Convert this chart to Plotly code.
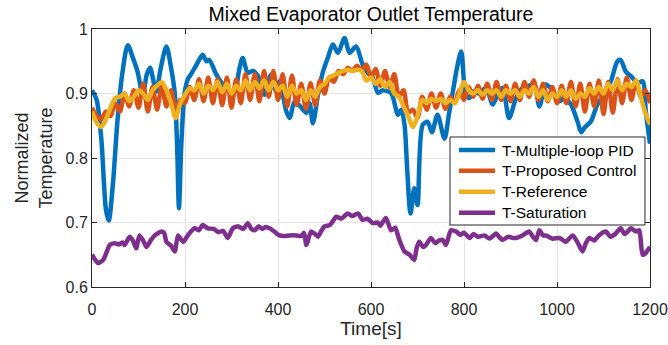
import plotly.graph_objects as go

# ---- Data ----
pid_t = [0,10,20,30,36,45,55,65,77,88,98,109,118,125,132,138,148,160,170,178,183,187,192,199,206,213,225,238,246,252,267,280,292,307,316,324,335,346,357,371,385,395,403,418,425,436,448,461,468,475,486,496,507,518,529,543,554,568,582,595,604,615,625,643,658,665,672,678,685,693,700,711,722,731,743,758,768,776,785,794,804,812,819,833,847,862,873,883,897,912,926,940,951,962,976,990,1005,1016,1030,1044,1052,1059,1073,1087,1102,1116,1130,1137,1148,1159,1173,1184,1191,1200]
pid_v = [0.905,0.89,0.83,0.72,0.703,0.76,0.86,0.93,0.975,0.955,0.934,0.898,0.93,0.94,0.92,0.903,0.94,0.973,0.94,0.9,0.82,0.722,0.82,0.9,0.922,0.93,0.945,0.96,0.95,0.952,0.93,0.915,0.906,0.903,0.935,0.955,0.932,0.935,0.927,0.898,0.929,0.905,0.919,0.872,0.862,0.888,0.88,0.87,0.885,0.854,0.898,0.932,0.955,0.976,0.963,0.986,0.963,0.973,0.945,0.93,0.924,0.901,0.905,0.901,0.867,0.875,0.852,0.78,0.714,0.753,0.727,0.851,0.856,0.84,0.867,0.83,0.87,0.903,0.94,0.965,0.898,0.893,0.903,0.9,0.909,0.883,0.9,0.909,0.862,0.893,0.909,0.912,0.916,0.88,0.914,0.905,0.888,0.893,0.883,0.857,0.84,0.847,0.857,0.883,0.898,0.919,0.95,0.952,0.934,0.927,0.916,0.919,0.872,0.822]

grid_t = list(range(0, 1201, 10))
proposed_v = [0.878,0.865,0.86,0.872,0.865,0.885,0.872,0.9,0.88,0.905,0.878,0.915,0.872,0.91,0.875,0.912,0.88,0.905,0.875,0.89,
              0.885,0.91,0.89,0.922,0.888,0.925,0.885,0.922,0.882,0.925,0.878,0.922,0.885,0.93,0.89,0.93,0.888,0.935,0.895,0.935,
              0.89,0.93,0.88,0.928,0.882,0.915,0.876,0.916,0.882,0.92,0.9,0.925,0.918,0.935,0.93,0.94,0.935,0.943,0.935,0.945,
              0.925,0.938,0.912,0.935,0.91,0.93,0.895,0.905,0.87,0.875,0.862,0.895,0.875,0.9,0.878,0.9,0.876,0.895,0.885,0.905,
              0.89,0.91,0.895,0.912,0.892,0.915,0.89,0.918,0.89,0.912,0.888,0.915,0.89,0.918,0.895,0.92,0.89,0.915,0.888,0.91,
              0.885,0.912,0.885,0.918,0.88,0.915,0.872,0.915,0.88,0.92,0.868,0.918,0.87,0.922,0.885,0.925,0.89,0.92,0.895,0.905,
              0.885]
reference_v = [0.872,0.855,0.848,0.86,0.878,0.893,0.895,0.9,0.888,0.895,0.905,0.9,0.89,0.905,0.912,0.918,0.905,0.885,0.862,0.885,
               0.898,0.908,0.905,0.915,0.9,0.912,0.905,0.918,0.902,0.915,0.9,0.912,0.905,0.92,0.905,0.918,0.908,0.92,0.905,0.918,
               0.905,0.912,0.895,0.912,0.9,0.905,0.89,0.905,0.895,0.91,0.915,0.925,0.928,0.932,0.935,0.937,0.935,0.937,0.935,0.92,
               0.925,0.915,0.922,0.91,0.918,0.9,0.895,0.88,0.865,0.848,0.865,0.89,0.885,0.892,0.888,0.892,0.885,0.89,0.885,0.9,
               0.918,0.905,0.9,0.905,0.898,0.905,0.9,0.905,0.895,0.905,0.9,0.905,0.895,0.905,0.9,0.91,0.895,0.905,0.89,0.9,
               0.895,0.905,0.895,0.905,0.892,0.9,0.895,0.908,0.9,0.91,0.9,0.915,0.905,0.92,0.905,0.915,0.91,0.92,0.895,0.87,
               0.852]

sat_t = [0,6,13,24,32,38,49,58,66,70,81,88,95,102,110,117,126,135,149,155,160,170,178,185,196,208,221,230,238,249,262,272,282,292,303,315,325,335,343,350,358,366,374,382,392,403,413,425,439,450,456,461,471,480,486,494,500,511,518,525,536,550,560,572,582,592,604,615,620,632,643,652,660,672,683,693,698,704,712,718,729,738,746,754,761,772,783,792,800,812,820,830,844,855,869,875,883,895,905,912,926,940,948,955,962,970,976,990,1005,1012,1019,1034,1045,1055,1062,1070,1080,1090,1105,1115,1125,1137,1145,1152,1159,1170,1177,1184,1190,1195,1200]
sat_v = [0.65,0.643,0.637,0.642,0.655,0.665,0.668,0.666,0.669,0.665,0.678,0.672,0.66,0.68,0.672,0.662,0.672,0.68,0.686,0.684,0.67,0.664,0.655,0.68,0.67,0.682,0.691,0.688,0.696,0.691,0.69,0.685,0.687,0.676,0.691,0.694,0.69,0.699,0.69,0.688,0.694,0.69,0.693,0.691,0.686,0.68,0.679,0.68,0.68,0.679,0.684,0.665,0.686,0.682,0.678,0.688,0.694,0.696,0.702,0.709,0.706,0.714,0.71,0.714,0.704,0.706,0.699,0.7,0.695,0.707,0.688,0.692,0.675,0.655,0.65,0.642,0.66,0.67,0.662,0.665,0.676,0.668,0.672,0.673,0.665,0.688,0.686,0.681,0.684,0.676,0.682,0.678,0.68,0.675,0.683,0.678,0.673,0.678,0.676,0.676,0.68,0.686,0.678,0.673,0.688,0.68,0.68,0.675,0.676,0.673,0.67,0.68,0.668,0.655,0.668,0.676,0.672,0.68,0.686,0.678,0.682,0.691,0.682,0.686,0.691,0.686,0.688,0.65,0.652,0.657,0.662]

x_ticks = [0, 200, 400, 600, 800, 1000, 1200]
y_ticks = [0.6, 0.7, 0.8, 0.9, 1.0]
y_tick_labels = ["0.6", "0.7", "0.8", "0.9", "1"]

names = ["T-Multiple-loop PID", "T-Proposed Control", "T-Reference", "T-Saturation"]
colors = ["#0072BD", "#D95319", "#EDB120", "#7E2F8E"]

series = [(pid_t, pid_v, 0.8), (grid_t, proposed_v, 0.8), (grid_t, reference_v, 0.8), (sat_t, sat_v, 0.6)]

fig = go.Figure()
for (xs, ys, sm), nm, col in zip(series, names, colors):
    fig.add_trace(go.Scatter(x=xs, y=ys, mode="lines", name=nm, showlegend=False,
                             line=dict(color=col, width=4.5, shape="spline", smoothing=sm)))

font_family = "Liberation Sans, Arial, sans-serif"
axis_common = dict(
    showline=True, linecolor="#262626", linewidth=1, mirror="allticks",
    ticks="inside", ticklen=5, tickcolor="#262626",
    showgrid=True, gridcolor="#E3E3E3", gridwidth=1, zeroline=False,
    automargin=False,
    tickfont=dict(family=font_family, size=16, color="#262626"),
)

# ---- Legend box (MATLAB-style compact legend), in paper coordinates ----
leg_x0, leg_x1, leg_y0, leg_y1 = 0.6416, 0.991, 0.2403, 0.5814
sample_x0, sample_x1, text_x = 0.6577, 0.7222, 0.7312
row_y = [0.531, 0.4508, 0.3694, 0.288]

shapes = [dict(type="rect", xref="paper", yref="paper", x0=leg_x0, x1=leg_x1, y0=leg_y0, y1=leg_y1,
               fillcolor="white", line=dict(color="#262626", width=1), layer="above")]
annotations = []
for nm, col, yy in zip(names, colors, row_y):
    shapes.append(dict(type="line", xref="paper", yref="paper", x0=sample_x0, x1=sample_x1, y0=yy, y1=yy,
                       line=dict(color=col, width=4.5), layer="above"))
    annotations.append(dict(text=nm, xref="paper", yref="paper", x=text_x, y=yy, xanchor="left", yanchor="middle",
                            showarrow=False, font=dict(family=font_family, size=15.5, color="#000000")))

fig.update_layout(
    width=668, height=345,
    margin=dict(l=92, r=18, t=29, b=58),
    paper_bgcolor="white", plot_bgcolor="white",
    title=dict(text="Mixed Evaporator Outlet Temperature", x=0.5, xanchor="center",
               xref="paper", y=0.98, yanchor="top",
               font=dict(family=font_family, size=19.5, color="#000000")),
    xaxis=dict(range=[0, 1200], tickvals=x_ticks, ticklabelstandoff=8, **axis_common,
               title=dict(text="Time[s]", font=dict(family=font_family, size=19, color="#262626"), standoff=0)),
    yaxis=dict(range=[0.6, 1.0], tickvals=y_ticks, ticktext=y_tick_labels, **axis_common,
               title=dict(text="Normalized<br>Temperature", font=dict(family=font_family, size=18, color="#262626"), standoff=8)),
    shapes=shapes,
    annotations=annotations,
    showlegend=False,
)

fig.write_html("out.html", config={"displayModeBar": False},
               post_script="document.body.style.margin='0px';document.body.style.overflow='hidden';")
